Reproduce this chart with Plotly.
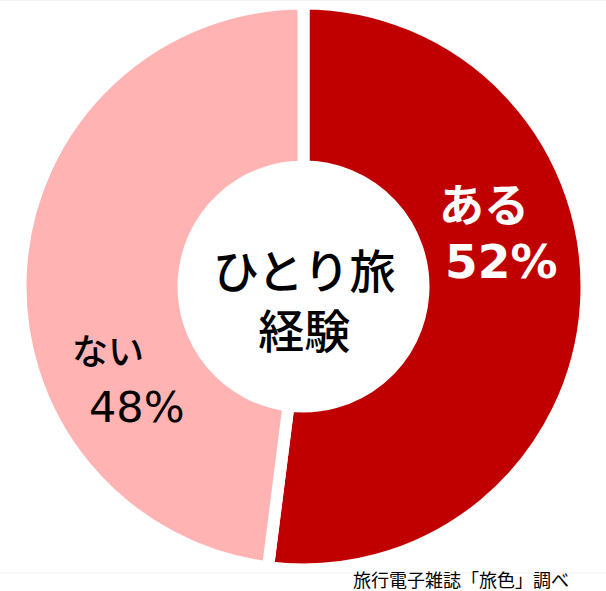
import plotly.graph_objects as go

# ---- data ----
labels = ["ある", "ない"]
values = [52, 48]
pct_labels = ["52%", "48%"]
colors = ["#C00000", "#FFB3B3"]
center_lines = ["ひとり旅", "経験"]
source = "旅行電子雑誌「旅色」調べ"

W, H = 606, 591
CX, CY, R = 303.5, 286.5, 283.0  # pie geometry in px


def px(x):
    return x / W


def py(y):
    return 1 - y / H


fig = go.Figure()
fig.add_trace(go.Pie(
    labels=labels,
    values=values,
    sort=False,
    direction="clockwise",
    rotation=0,
    hole=0.424,
    marker=dict(colors=colors, line=dict(color="white", width=12)),
    textinfo="none",
    hoverinfo="label+percent",
    showlegend=False,
    domain=dict(x=[px(CX - R), px(CX + R)], y=[py(CY + R), py(CY - R)]),
))

jp = "Noto Sans CJK JP"
dj = "DejaVu Sans, " + jp
ann = []
# center text
ann.append(dict(x=px(304), y=py(297.5), text="<br>".join(center_lines),
                font=dict(family=jp, size=46, color="black", weight=500)))
# slice labels
ann.append(dict(x=px(484), y=py(202), text=labels[0],
                font=dict(family=jp, size=45, color="white", weight=700)))
ann.append(dict(x=px(501), y=py(261), text=pct_labels[0],
                font=dict(family=dj, size=47, color="white", weight=700)))
ann.append(dict(x=px(107.5), y=py(349), text=labels[1],
                font=dict(family=jp, size=36, color="black", weight=500)))
ann.append(dict(x=px(137), y=py(407), text=pct_labels[1],
                font=dict(family=dj, size=43, color="black")))
# source
ann.append(dict(x=px(571), y=py(578.5), text=source, xanchor="right",
                font=dict(family=jp, size=18, color="black")))

for a in ann:
    a.update(xref="paper", yref="paper", showarrow=False)
    a.setdefault("xanchor", "center")
    a["yanchor"] = "middle"

fig.update_layout(
    width=W, height=H,
    margin=dict(l=0, r=0, t=0, b=0),
    paper_bgcolor="white",
    plot_bgcolor="white",
    annotations=ann,
    shapes=[
        dict(type="line", xref="paper", yref="paper", x0=0, x1=1,
             y0=py(573), y1=py(573), line=dict(color="#efefef", width=1)),
        dict(type="line", xref="paper", yref="paper", x0=0, x1=1,
             y0=py(0.5), y1=py(0.5), line=dict(color="#f2f2f2", width=1)),
    ],
)

fig.write_html("out.html", config={"displayModeBar": False},
               post_script="document.body.style.margin='0';")
